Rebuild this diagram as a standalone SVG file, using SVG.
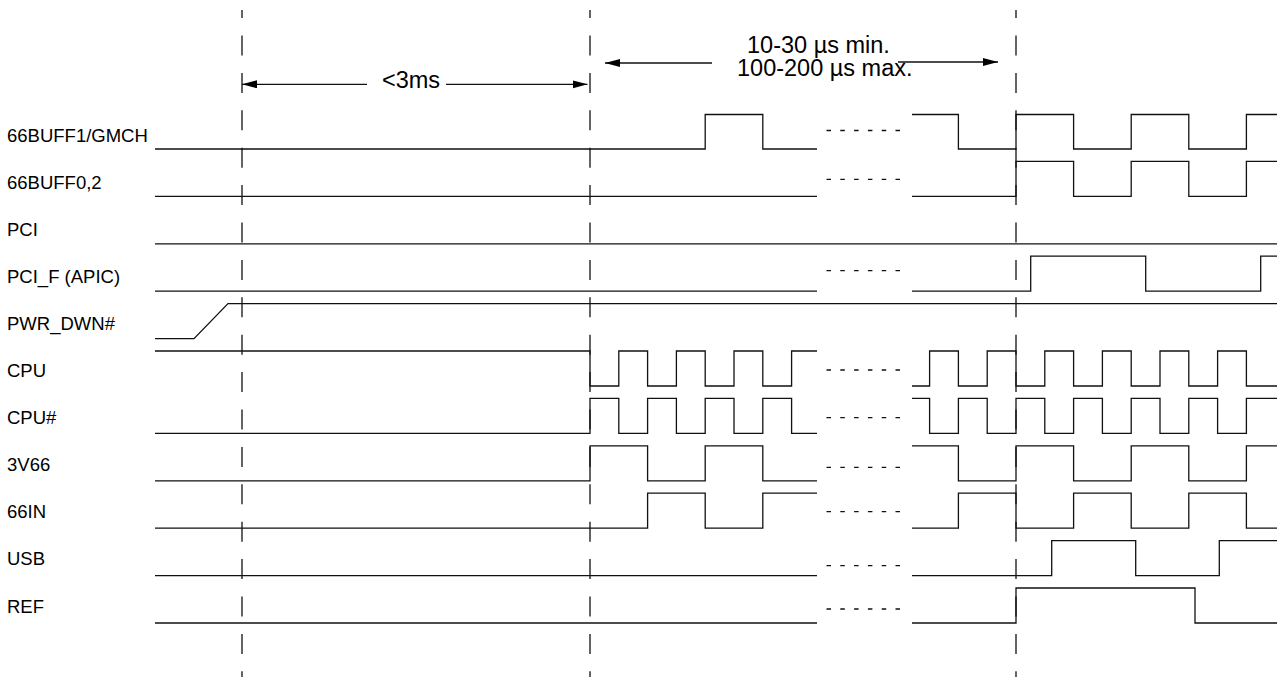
<svg xmlns="http://www.w3.org/2000/svg" width="1278" height="677" viewBox="0 0 1278 677">
<style>
.lbl{font-family:"Liberation Sans",Arial,sans-serif;font-size:18.5px;fill:#000}
.ann{font-family:"Liberation Sans",Arial,sans-serif;font-size:23.5px;fill:#000}
.sig{fill:none;stroke:#111;stroke-width:1.3}
.vdash{fill:none;stroke:#111;stroke-width:1.3;stroke-dasharray:20 17.4;stroke-dashoffset:11.9}
.gap{fill:none;stroke:#111;stroke-width:1.3;stroke-dasharray:4.5 9.3}
.arr{fill:none;stroke:#111;stroke-width:1.3;marker-end:url(#ah)}
</style>
<defs>
<marker id="ah" markerUnits="userSpaceOnUse" markerWidth="16" markerHeight="10" refX="15" refY="4" orient="auto">
<path d="M0,0 L15,4 L0,8 z" fill="#000"/>
</marker>
</defs>
<rect width="1278" height="677" fill="#fff"/>

<g id="timemarks">
<line class="vdash" x1="242" y1="10" x2="242" y2="677"/>
<line class="vdash" x1="590" y1="10" x2="590" y2="677"/>
<line class="vdash" x1="1016" y1="10" x2="1016" y2="677"/>
</g>

<g id="connectors">
<line class="arr" x1="367" y1="84.3" x2="242" y2="84.3"/>
<line class="arr" x1="446" y1="84.3" x2="587.5" y2="84.3"/>
<line class="arr" x1="712" y1="63" x2="605" y2="63"/>
<line class="arr" x1="898" y1="62" x2="998" y2="62"/>
</g>

<g id="annotations">
<text class="ann" x="382" y="88">&lt;3ms</text>
<text class="ann" x="747" y="53">10-30 µs min.</text>
<text class="ann" x="737" y="76">100-200 µs max.</text>
</g>

<g id="sig-66BUFF1">
<text class="lbl" x="7" y="141.5">66BUFF1/GMCH</text>
<path class="sig" d="M155,149 H705.2 V114.5 H762.8 V149 H817"/>
<path class="sig" d="M912,114.5 H958.4 V149 H1016 V114.5 H1073.6 V149 H1131.2 V114.5 H1188.8 V149 H1246.4 V114.5 H1277"/>
<line class="gap" x1="826.5" y1="130.5" x2="900" y2="130.5"/>
</g>

<g id="sig-66BUFF0">
<text class="lbl" x="7" y="188.6">66BUFF0,2</text>
<path class="sig" d="M155,196.4 H817"/>
<path class="sig" d="M912,196.4 H1016 V161.4 H1073.6 V196.4 H1131.2 V161.4 H1188.8 V196.4 H1246.4 V161.4 H1277"/>
<line class="gap" x1="826.5" y1="179.3" x2="900" y2="179.3"/>
</g>

<g id="sig-PCI">
<text class="lbl" x="7" y="235.7">PCI</text>
<path class="sig" d="M155,243.8 H1277"/>
</g>

<g id="sig-PCIF">
<text class="lbl" x="7" y="282.8">PCI_F (APIC)</text>
<path class="sig" d="M155,291.2 H817"/>
<path class="sig" d="M912,291.2 H1030.7 V256.2 H1145.7 V291.2 H1260.7 V256.2 H1277"/>
<line class="gap" x1="826.5" y1="270.7" x2="900" y2="270.7"/>
</g>

<g id="sig-PWRDWN">
<text class="lbl" x="7" y="329.9">PWR_DWN#</text>
<path class="sig" d="M155,338.6 H194 L228,303.6 H1277"/>
</g>

<g id="sig-CPU">
<text class="lbl" x="7" y="377">CPU</text>
<path class="sig" d="M155,351 H590 V386 H618.8 V351 H647.6 V386 H676.4 V351 H705.2 V386 H734 V351 H762.8 V386 H791.6 V351 H817"/>
<path class="sig" d="M912,386 H929.6 V351 H958.4 V386 H987.2 V351 H1016 V386 H1044.8 V351 H1073.6 V386 H1102.4 V351 H1131.2 V386 H1160 V351 H1188.8 V386 H1217.6 V351 H1246.4 V386 H1277"/>
<line class="gap" x1="826.5" y1="370" x2="900" y2="370"/>
</g>

<g id="sig-CPUN">
<text class="lbl" x="7" y="424.1">CPU#</text>
<path class="sig" d="M155,433.4 H590 V398.4 H618.8 V433.4 H647.6 V398.4 H676.4 V433.4 H705.2 V398.4 H734 V433.4 H762.8 V398.4 H791.6 V433.4 H817"/>
<path class="sig" d="M912,398.4 H929.6 V433.4 H958.4 V398.4 H987.2 V433.4 H1016 V398.4 H1044.8 V433.4 H1073.6 V398.4 H1102.4 V433.4 H1131.2 V398.4 H1160 V433.4 H1188.8 V398.4 H1217.6 V433.4 H1246.4 V398.4 H1277"/>
<line class="gap" x1="826.5" y1="417.7" x2="900" y2="417.7"/>
</g>

<g id="sig-3V66">
<text class="lbl" x="7" y="471.2">3V66</text>
<path class="sig" d="M155,480.8 H590 V445.8 H647.6 V480.8 H705.2 V445.8 H762.8 V480.8 H817"/>
<path class="sig" d="M912,445.8 H958.4 V480.8 H1016 V445.8 H1073.6 V480.8 H1131.2 V445.8 H1188.8 V480.8 H1246.4 V445.8 H1277"/>
<line class="gap" x1="826.5" y1="467.3" x2="900" y2="467.3"/>
</g>

<g id="sig-66IN">
<text class="lbl" x="7" y="518.3">66IN</text>
<path class="sig" d="M155,528.2 H647.6 V493.2 H705.2 V528.2 H762.8 V493.2 H817"/>
<path class="sig" d="M912,528.2 H958.4 V493.2 H1016 V528.2 H1073.6 V493.2 H1131.2 V528.2 H1188.8 V493.2 H1246.4 V528.2 H1277"/>
<line class="gap" x1="826.5" y1="511.7" x2="900" y2="511.7"/>
</g>

<g id="sig-USB">
<text class="lbl" x="7" y="565.4">USB</text>
<path class="sig" d="M155,575.6 H817"/>
<path class="sig" d="M912,575.6 H1051.7 V540.6 H1135.7 V575.6 H1219.3 V540.6 H1277"/>
<line class="gap" x1="826.5" y1="565.7" x2="900" y2="565.7"/>
</g>

<g id="sig-REF">
<text class="lbl" x="7" y="612.5">REF</text>
<path class="sig" d="M155,623 H817"/>
<path class="sig" d="M912,623 H1016 V588 H1195 V623 H1277"/>
<line class="gap" x1="826.5" y1="609" x2="900" y2="609"/>
</g>
</svg>
